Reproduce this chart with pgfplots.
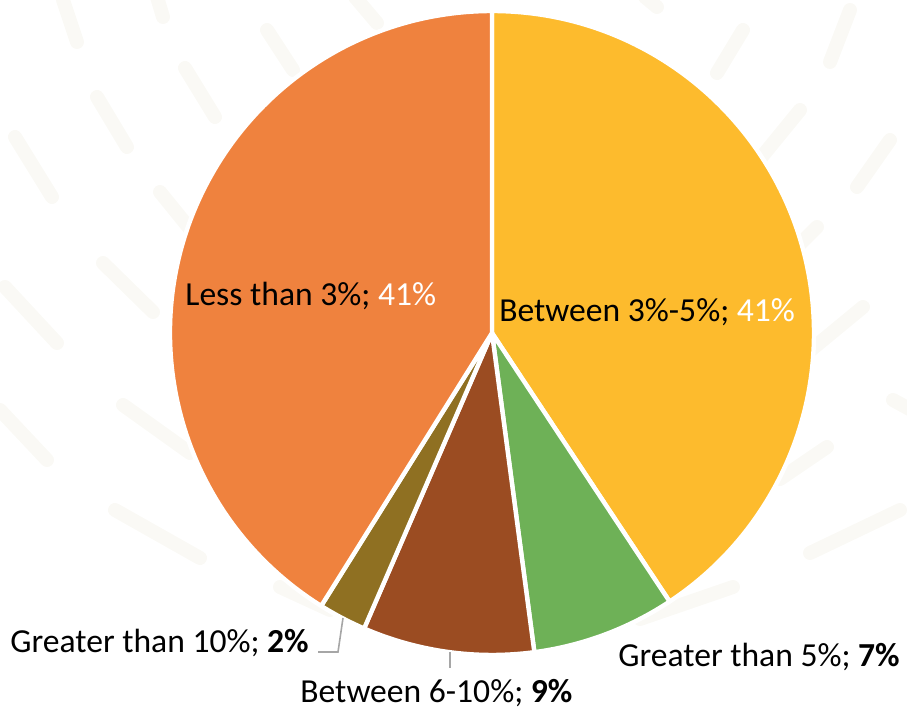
\documentclass[border=0pt]{standalone}
\usepackage{pgfplots}
\pgfplotsset{compat=1.18}
\usepackage{pgfplotstable}
\usepackage{fontspec}
\setmainfont{Carlito}

\definecolor{cYellow}{RGB}{253,187,45}
\definecolor{cGreen}{RGB}{110,177,87}
\definecolor{cBrown}{RGB}{155,76,34}
\definecolor{cOlive}{RGB}{143,112,34}
\definecolor{cOrange}{RGB}{239,130,62}
\definecolor{cDash}{RGB}{250,249,245}
\definecolor{cLeader}{RGB}{166,166,166}

% slice shares in percent, clockwise from 12 o'clock
\pgfplotstableread{
idx value
0 40.7
1 7.2
2 8.6
3 2.4
4 41.1
}\piedata

\pgfplotstablegetelem{0}{value}\of\piedata\edef\vA{\pgfplotsretval}
\pgfplotstablegetelem{1}{value}\of\piedata\edef\vB{\pgfplotsretval}
\pgfplotstablegetelem{2}{value}\of\piedata\edef\vC{\pgfplotsretval}
\pgfplotstablegetelem{3}{value}\of\piedata\edef\vD{\pgfplotsretval}
\pgfplotstablegetelem{4}{value}\of\piedata\edef\vE{\pgfplotsretval}
\pgfmathsetmacro\aA{90}
\pgfmathsetmacro\aB{\aA-3.6*\vA}
\pgfmathsetmacro\aC{\aB-3.6*\vB}
\pgfmathsetmacro\aD{\aC-3.6*\vC}
\pgfmathsetmacro\aE{\aD-3.6*\vD}
\pgfmathsetmacro\aF{\aE-3.6*\vE}

\tikzset{
  bgdash/.style={draw=cDash, line width=7pt, line cap=round, no marks},
  slice/.style={draw=white, line width=2.2pt, line join=round},
  lbl/.style={anchor=base west, inner sep=0pt, font=\fontsize{16.8}{20}\selectfont},
}

\begin{document}
\begin{tikzpicture}
\path[use as bounding box] (0,0) rectangle (453.5pt,354.5pt);
\begin{axis}[
  hide axis, x=0.5pt, y=0.5pt,
  xmin=0, xmax=907, ymin=0, ymax=709,
  clip=false,
]
% faint background dashes
\addplot[bgdash] coordinates {(63,709) (77,667)};
\addplot[bgdash] coordinates {(157,712) (163,692)};
\addplot[bgdash] coordinates {(355,712) (377,686)};
\addplot[bgdash] coordinates {(267,679) (293,639)};
\addplot[bgdash] coordinates {(185,641) (215,592)};
\addplot[bgdash] coordinates {(97,612) (127,562)};
\addplot[bgdash] coordinates {(15,572) (52,512)};
\addplot[bgdash] coordinates {(160,517) (190,480)};
\addplot[bgdash] coordinates {(103,446) (153,397)};
\addplot[bgdash] coordinates {(5,422) (57,366)};
\addplot[bgdash] coordinates {(0,299) (47,249)};
\addplot[bgdash] coordinates {(123,304) (190,256)};
\addplot[bgdash] coordinates {(115,199) (200,151)};
\addplot[bgdash] coordinates {(280,122) (330,99)};
\addplot[bgdash] coordinates {(645,712) (657,702)};
\addplot[bgdash] coordinates {(743,679) (717,636)};
\addplot[bgdash] coordinates {(850,699) (830,647)};
\addplot[bgdash] coordinates {(800,599) (760,550)};
\addplot[bgdash] coordinates {(890,569) (857,522)};
\addplot[bgdash] coordinates {(817,482) (795,460)};
\addplot[bgdash] coordinates {(863,402) (800,350)};
\addplot[bgdash] coordinates {(893,309) (915,297)};
\addplot[bgdash] coordinates {(827,262) (780,230)};
\addplot[bgdash] coordinates {(900,199) (810,156)};
\addplot[bgdash] coordinates {(733,122) (640,90)};

% pie slices
\fill[cYellow, slice] (axis cs:492,376) -- ++(\aA:161pt) arc[start angle=\aA, end angle=\aB, radius=161pt] -- cycle;
\fill[cGreen, slice] (axis cs:492,376) -- ++(\aB:161pt) arc[start angle=\aB, end angle=\aC, radius=161pt] -- cycle;
\fill[cBrown, slice] (axis cs:492,376) -- ++(\aC:161pt) arc[start angle=\aC, end angle=\aD, radius=161pt] -- cycle;
\fill[cOlive, slice] (axis cs:492,376) -- ++(\aD:161pt) arc[start angle=\aD, end angle=\aE, radius=161pt] -- cycle;
\fill[cOrange, slice] (axis cs:492,376) -- ++(\aE:161pt) arc[start angle=\aE, end angle=\aF, radius=161pt] -- cycle;

% leader lines
\addplot[draw=cLeader, line width=0.8pt, no marks] coordinates {(318,57) (338,57) (343,91)};
\addplot[draw=cLeader, line width=0.8pt, no marks] coordinates {(450,57) (450,41)};

% labels
\node[lbl] at (axis cs:185,403) {Less than 3\%; \textcolor{white}{41\%}};
\node[lbl] at (axis cs:499,387) {Between 3\%-5\%; \textcolor{white}{41\%}};
\node[lbl] at (axis cs:618,42) {Greater than 5\%; \textbf{7\%}};
\node[lbl] at (axis cs:300,6) {Between 6-10\%; \textbf{9\%}};
\node[lbl] at (axis cs:10,56) {Greater than 10\%; \textbf{2\%}};
\end{axis}
\end{tikzpicture}
\end{document}
